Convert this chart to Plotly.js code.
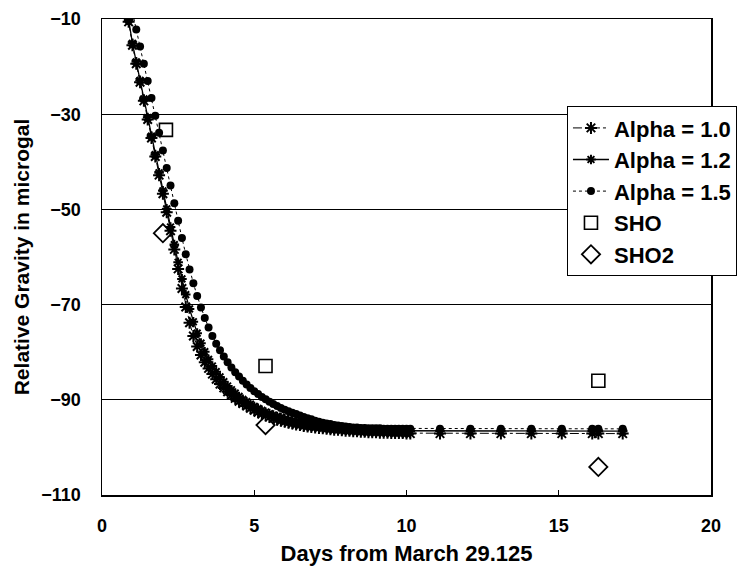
<!DOCTYPE html>
<html>
<head>
<meta charset="utf-8">
<script src="https://cdn.plot.ly/plotly-3.0.1.min.js"></script>
<style>html,body{margin:0;padding:0;background:#fff;}#chart{width:750px;height:571px;}</style>
</head>
<body>
<div id="chart"></div>
<script>
// Days (3-hourly model points, then daily)
var days = [
  0.875,
  1.0, 1.125, 1.25, 1.375, 1.5, 1.625, 1.75, 1.875,
  2.0, 2.125, 2.25, 2.375, 2.5, 2.625, 2.75, 2.875,
  3.0, 3.125, 3.25, 3.375, 3.5, 3.625, 3.75, 3.875,
  4.0, 4.125, 4.25, 4.375, 4.5, 4.625, 4.75, 4.875,
  5.0, 5.125, 5.25, 5.375, 5.5, 5.625, 5.75, 5.875,
  6.0, 6.125, 6.25, 6.375, 6.5, 6.625, 6.75, 6.875,
  7.0, 7.125, 7.25, 7.375, 7.5, 7.625, 7.75, 7.875,
  8.0, 8.125, 8.25, 8.375, 8.5, 8.625, 8.75, 8.875,
  9.0, 9.125, 9.25, 9.375, 9.5, 9.625, 9.75, 9.875,
  10.0, 10.125,
  11.1, 12.1, 13.1, 14.1, 15.1, 16.1, 16.3, 17.1
];
var alpha10 = [
  -10.6,
  -15.5, -19.4, -23.3, -27.2, -31.1, -35.0, -38.9, -42.8,
  -46.7, -50.6, -54.5, -58.4, -62.5, -66.6, -70.5, -73.8,
  -76.6, -78.8, -80.6, -82.1, -83.4, -84.6, -85.7, -86.7,
  -87.5, -88.3, -89.0, -89.7, -90.3, -90.8, -91.3, -91.8,
  -92.2, -92.6, -93.0, -93.3, -93.6, -93.9, -94.2, -94.4,
  -94.6, -94.8, -95.0, -95.2, -95.3, -95.5, -95.6, -95.7,
  -95.8, -95.9, -96.0, -96.1, -96.2, -96.3, -96.3, -96.4,
  -96.5, -96.5, -96.6, -96.6, -96.7, -96.7, -96.8, -96.8,
  -96.8, -96.9, -96.9, -96.9, -97.0, -97.0, -97.0, -97.0,
  -97.1, -97.1,
  -97.1, -97.1, -97.1, -97.1, -97.1, -97.1, -97.1, -97.1
];
var alpha12 = [
  -10.2,
  -15.1, -19.0, -22.9, -26.8, -30.7, -34.6, -38.5, -42.3,
  -46.1, -49.9, -53.7, -57.4, -61.1, -64.6, -67.9, -70.9,
  -73.6, -76.0, -78.1, -79.9, -81.5, -82.9, -84.1, -85.2,
  -86.2, -87.1, -87.9, -88.6, -89.3, -89.9, -90.4, -90.9,
  -91.4, -91.8, -92.2, -92.6, -92.9, -93.2, -93.5, -93.7,
  -94.0, -94.2, -94.4, -94.6, -94.7, -94.9, -95.0, -95.2,
  -95.3, -95.4, -95.5, -95.6, -95.7, -95.8, -95.8, -95.9,
  -96.0, -96.0, -96.1, -96.1, -96.2, -96.2, -96.3, -96.3,
  -96.3, -96.4, -96.4, -96.4, -96.5, -96.5, -96.5, -96.5,
  -96.6, -96.6,
  -96.6, -96.6, -96.6, -96.6, -96.6, -96.6, -96.6, -96.6
];
var alpha15 = [
  -4.9,
  -8.6, -12.2, -15.8, -19.4, -23.0, -26.6, -30.3, -33.9,
  -37.6, -41.3, -45.0, -48.7, -52.4, -56.0, -59.4, -62.6,
  -65.5, -68.2, -70.6, -72.8, -74.8, -76.6, -78.2, -79.6,
  -80.9, -82.1, -83.2, -84.2, -85.1, -86.0, -86.8, -87.5,
  -88.2, -88.8, -89.4, -89.9, -90.4, -90.9, -91.3, -91.7,
  -92.1, -92.4, -92.7, -93.0, -93.3, -93.6, -93.9, -94.1,
  -94.4, -94.6, -94.8, -95.0, -95.1, -95.3, -95.4, -95.5,
  -95.6, -95.7, -95.8, -95.8, -95.9, -95.9, -96.0, -96.0,
  -96.0, -96.0, -96.1, -96.1, -96.1, -96.1, -96.1, -96.1,
  -96.1, -96.1,
  -96.1, -96.1, -96.1, -96.1, -96.1, -96.1, -96.1, -96.1
];
// Observations
var shoDays = [2.1, 5.37, 16.3];
var shoValues = [-33.3, -82.9, -86.0];
var sho2Days = [2.0, 5.37, 16.3];
var sho2Values = [-55.0, -95.3, -104.1];

var xTickVals = [0, 5, 10, 15, 20];
var yTickVals = [-110, -90, -70, -50, -30, -10];

var FONT = 'Liberation Sans, Arial, sans-serif';

var traces = [
  {x: days, y: alpha10, name: 'Alpha = 1.0', mode: 'lines+markers', legendgroup: 'a',
   line: {color: '#000', width: 1, dash: 'dashdot'},
   marker: {symbol: 'asterisk-open', size: 10, color: '#000', line: {color: '#000', width: 2}}},
  {x: days, y: alpha12, name: 'Alpha = 1.2', mode: 'lines+markers', legendgroup: 'b',
   line: {color: '#000', width: 1.3, dash: 'solid'},
   marker: {symbol: 'asterisk-open', size: 8, color: '#000', line: {color: '#000', width: 2}}},
  {x: days, y: alpha15, name: 'Alpha = 1.5', mode: 'lines+markers', legendgroup: 'c',
   line: {color: '#000', width: 1, dash: 'dot'},
   marker: {symbol: 'circle', size: 8, color: '#000'}},
  {x: shoDays, y: shoValues, name: 'SHO', mode: 'markers', legendgroup: 'd',
   marker: {symbol: 'square-open', size: 13, color: '#000', line: {color: '#000', width: 1.6}}},
  {x: sho2Days, y: sho2Values, name: 'SHO2', mode: 'markers', legendgroup: 'e',
   marker: {symbol: 'diamond-open', size: 14, color: '#000', line: {color: '#000', width: 1.8}}}
];

var layout = {
  width: 750, height: 571,
  margin: {l: 102, r: 39, t: 19, b: 76},
  paper_bgcolor: '#fff', plot_bgcolor: '#fff',
  font: {family: FONT, color: '#000', size: 17},
  showlegend: true,
  legend: {
    x: 0.7635, y: 0.817, xanchor: 'left', yanchor: 'top',
    bgcolor: '#fff', bordercolor: '#000', borderwidth: 1,
    font: {family: FONT, size: 22, color: '#000', weight: 600},
    traceorder: 'grouped', tracegroupgap: 0, itemwidth: 36
  },
  xaxis: {
    range: [0, 20], tickvals: xTickVals, ticks: 'inside', ticklen: 5, tickcolor: '#000',
    showline: true, linecolor: '#000', linewidth: 1.5, mirror: true,
    showgrid: false, zeroline: false, ticklabelstandoff: 14,
    tickfont: {family: FONT, size: 18, color: '#000', weight: 600},
    title: {text: 'Days from March 29.125', standoff: 10, font: {family: FONT, size: 22, color: '#000', weight: 600}}
  },
  yaxis: {
    range: [-110, -10], tickvals: yTickVals, ticks: 'inside', ticklen: 5, tickcolor: '#000',
    showline: true, linecolor: '#000', linewidth: 1.5, mirror: true,
    showgrid: true, gridcolor: '#000', gridwidth: 1, zeroline: false, ticklabelstandoff: 16,
    tickfont: {family: FONT, size: 18, color: '#000', weight: 600},
    title: {text: 'Relative Gravity in microgal', standoff: 6, font: {family: FONT, size: 21, color: '#000', weight: 600}}
  }
};

Plotly.newPlot('chart', traces, layout, {displayModeBar: false, staticPlot: true});
</script>
</body>
</html>
